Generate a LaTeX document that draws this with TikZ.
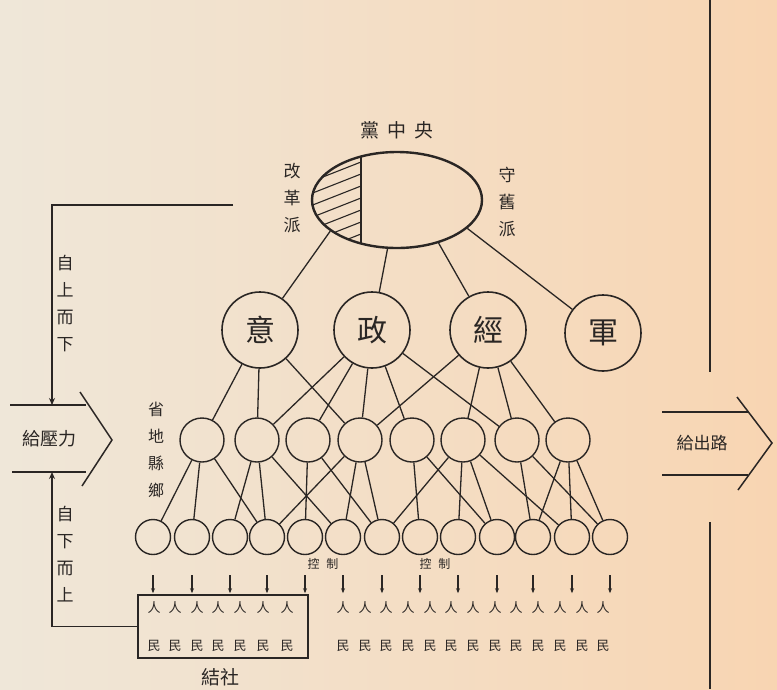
\documentclass[tikz,border=0pt]{standalone}
\usepackage{fontspec}
\newfontfamily\cjk{Noto Sans CJK TC}
\usetikzlibrary{arrows.meta,shapes.geometric}
\definecolor{ink}{RGB}{42,38,36}
\definecolor{paperL}{RGB}{239,231,217}
\definecolor{paperM}{RGB}{243,229,210}
\definecolor{paperR}{RGB}{248,213,178}
\tikzset{
  lnk/.style={draw=ink, line width=1.3pt},
  bigc/.style={circle, draw=ink, line width=1.6pt, minimum size=76pt, inner sep=0pt,
    font=\cjk\fontsize{30}{30}\selectfont, text=ink},
  midc/.style={circle, draw=ink, line width=1.4pt, minimum size=44pt, inner sep=0pt},
  smc/.style={circle, draw=ink, line width=1.4pt, minimum size=35pt, inner sep=0pt},
  lab/.style={font=\cjk\fontsize{18}{27}\selectfont, text=ink, align=center, inner sep=0pt},
  vlab/.style={font=\cjk\fontsize{17}{27}\selectfont, text=ink, align=center, inner sep=0pt},
  small/.style={font=\cjk\fontsize{13}{13}\selectfont, text=ink, inner sep=0pt},
  tiny/.style={font=\cjk\fontsize{12}{12}\selectfont, text=ink, inner sep=0pt},
  arr/.style={draw=ink, line width=1.3pt, -{Stealth[length=7pt,width=6pt]}},
  sarr/.style={draw=ink, line width=1.1pt, -{Stealth[length=5pt,width=4pt]}},
}
\begin{document}
\begin{tikzpicture}[x=1pt,y=-1pt]
\useasboundingbox (0,0) rectangle (777,689);
\shade[left color=paperL, middle color=paperM, right color=paperR] (0,0) rectangle (777,689);

% party centre
\node[lab, font=\cjk\fontsize{19}{19}\selectfont] (title) at (397,130) {黨\hspace{8pt}中\hspace{8pt}央};
\node[vlab] (reform) at (292,198) {改\\革\\派};
\node[vlab] (conserv) at (507,202) {守\\舊\\派};
\begin{scope}
  \clip (397,200) ellipse [x radius=85, y radius=48];
  \clip (300,140) rectangle (361,260);
  \foreach \k in {0,...,12} \draw[ink, line width=1.1pt] (300,{150+12*\k}) -- (361,{150+12*\k-24});
\end{scope}
\node[ellipse, draw=ink, line width=2.4pt, minimum width=170pt, minimum height=96pt, inner sep=0pt] (ell) at (397,200) {};
\draw[ink, line width=1.8pt] (361,156) -- (361,244);

% top circles
\node[bigc] (yi) at (260,330) {意};
\node[bigc] (zheng) at (372,330) {政};
\node[bigc] (jing) at (488,330) {經};
\node[bigc] (jun) at (603,333) {軍};
\draw[lnk] (ell.205) -- (yi);
\draw[lnk] (ell.259) -- (zheng);
\draw[lnk] (ell.314) -- (jing);
\draw[lnk] (ell.338) -- (jun);

% level 2
\foreach \x [count=\i] in {202,257,308,360,412,463,517,568}
  \node[midc] (L\i) at (\x,440) {};
% level 3
\foreach \x [count=\i] in {153,192,230,267,305,343,382,420,458,497,533,572,610}
  \node[smc] (B\i) at (\x,537) {};

\foreach \a/\b in {yi/L1,yi/L2,yi/L4,zheng/L2,zheng/L3,zheng/L4,zheng/L5,zheng/L7,jing/L4,jing/L6,jing/L7,jing/L8}
  \draw[lnk] (\a) -- (\b);
\foreach \a/\b in {L1/B1,L1/B2,L1/B4,L2/B3,L2/B4,L2/B6,L3/B5,L3/B7,L4/B4,L4/B6,L4/B7,L5/B8,L5/B10,L6/B7,L6/B9,L6/B10,L6/B12,L7/B11,L7/B13,L8/B11,L8/B12,L8/B13}
  \draw[lnk] (\a) -- (\b);

\node[vlab, font=\cjk\fontsize{16}{27}\selectfont] (levels) at (156,450) {省\\地\\縣\\鄉};

% control labels
\node[tiny] (ctl1) at (323,564) {控\hspace{7pt}制};
\node[tiny] (ctl2) at (435,564) {控\hspace{7pt}制};

% arrows down to people
\foreach \i in {1,...,13}
  \draw[sarr] ([yshift=-20pt]B\i.south) -- ([yshift=-38pt]B\i.south);

% people
\foreach \x in {154,175,197,218,240,263,287,343,365,386,408,430,451,473,495,516,538,560,582,603} {
  \node[small] at (\x,608) {人};
  \node[small] at (\x,646) {民};
}
\node[draw=ink, line width=1.3pt, minimum width=170pt, minimum height=63pt, inner sep=0pt] (box) at (223,626.5) {};
\node[lab, font=\cjk\fontsize{19}{19}\selectfont] (assoc) at (220,677) {結社};

% left pressure arrow
\coordinate (pt) at (52,405);
\coordinate (pb) at (52,472);
\coordinate (topend) at (233,205);
\draw[lnk] (10,405) -- (86,405);
\draw[lnk] (12,472) -- (86,472);
\draw[ink, line width=1.5pt] (80,392) -- (112,440) -- (82,486);
\node[lab, font=\cjk\fontsize{18}{18}\selectfont] (press) at (50,439) {給壓力};
\draw[arr] (topend) -| (pt);
\draw[arr] (box.west) -| (pb);
\node[vlab] (down) at (65,304) {自\\上\\而\\下};
\node[vlab] (up) at (65,554) {自\\下\\而\\上};

% right exit arrow
\draw[lnk] (662,412) -- (748,412);
\draw[lnk] (662,475) -- (748,475);
\draw[ink, line width=1.5pt] (737,397) -- (772,443) -- (738,490);
\node[lab, font=\cjk\fontsize{17}{17}\selectfont] (exit) at (702,443) {給出路};
\draw[ink, line width=1.2pt] (710,0) -- (710,372);
\draw[ink, line width=1.2pt] (710,522) -- (710,689);
\end{tikzpicture}
\end{document}
